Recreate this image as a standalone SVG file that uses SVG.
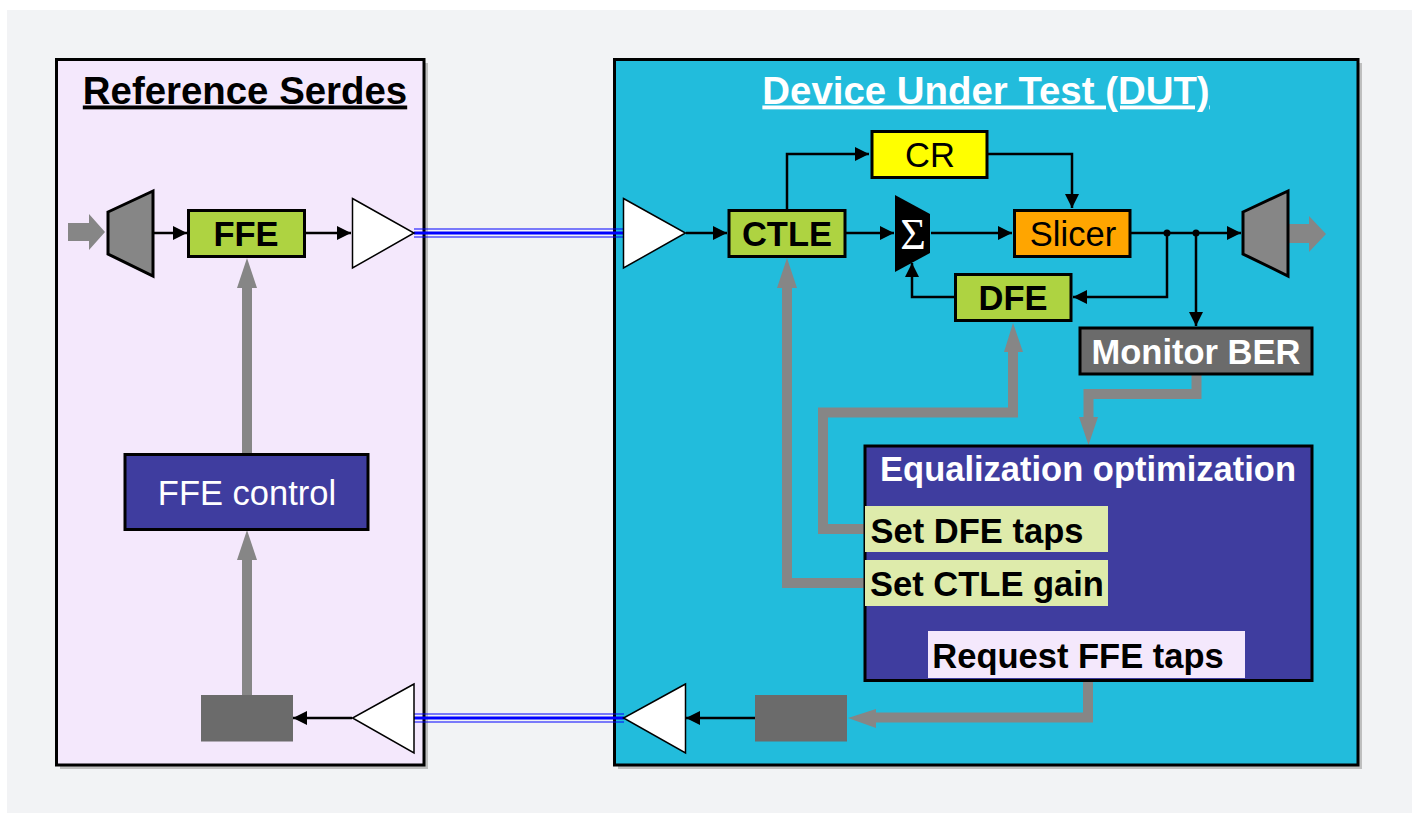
<svg xmlns="http://www.w3.org/2000/svg" width="1412" height="814" viewBox="0 0 1412 814">
<defs>
<marker id="ah" viewBox="0 0 14 14" refX="14" refY="7" markerWidth="14" markerHeight="14" markerUnits="userSpaceOnUse" orient="auto"><path d="M0 0L14 7L0 14Z" fill="#000"/></marker>
</defs>
<style>
text{font-family:"Liberation Sans",Arial,sans-serif;text-anchor:middle;font-size:34.500px}
.b{font-weight:bold}
.box{stroke:#000;stroke-width:3}
.green{fill:#aed341}
.wire{fill:none;stroke:#000;stroke-width:2.500}
.thick{fill:none;stroke:#868686;stroke-width:10}
.gh{fill:#868686}
.tri{fill:#fff;stroke:#000;stroke-width:1.500}
.mux{fill:#868686;stroke:#000;stroke-width:3}
.lane{stroke:#0000ff;fill:none}
text.title{font-size:38.400px}
</style>
<rect width="1412" height="814" fill="#fff"/>
<rect x="7" y="10" width="1405" height="803" fill="#f2f3f5"/>
<g id="panel-ref">
<rect x="60" y="63" width="368" height="706" fill="#bfbfbf"/>
<rect x="56.500" y="59.500" width="367.500" height="705.500" fill="#f4e8fc" class="box"/>
<text x="245" y="103.500" class="b title" text-decoration="underline">Reference Serdes</text>
</g>
<g id="panel-dut">
<rect x="618" y="63" width="744" height="706" fill="#bfbfbf"/>
<rect x="614.500" y="59.500" width="743.500" height="705.500" fill="#22bcdc" class="box"/>
<text x="986" y="103.500" class="b title" fill="#fff" text-decoration="underline">Device Under Test (DUT)</text>
</g>
<g id="connectors">
<path class="lane" stroke-width="1.200" d="M414 229H624M414 237H624M414 714H624M414 722H624"/>
<path class="lane" stroke-width="3" d="M414 233H624M414 718H624"/>
<path class="wire" marker-end="url(#ah)" d="M154 233H187"/>
<path class="wire" marker-end="url(#ah)" d="M305 233H351"/>
<path class="wire" marker-end="url(#ah)" d="M686 233H727"/>
<path class="wire" marker-end="url(#ah)" d="M846 233H894"/>
<path class="wire" marker-end="url(#ah)" d="M787 209V154H869"/>
<path class="wire" marker-end="url(#ah)" d="M988 154H1072V208"/>
<path class="wire" marker-end="url(#ah)" d="M931 233H1012"/>
<path class="wire" marker-end="url(#ah)" d="M1131 233H1241"/>
<path class="wire" marker-end="url(#ah)" d="M1167 233V297H1073"/>
<path class="wire" marker-end="url(#ah)" d="M1196 233V326"/>
<path class="wire" marker-end="url(#ah)" d="M955 297H912V263"/>
<path class="wire" marker-end="url(#ah)" d="M352 718H293"/>
<path class="wire" marker-end="url(#ah)" d="M755 718H686"/>
<circle cx="1167" cy="233" r="3.500"/>
<circle cx="1196" cy="233" r="3.500"/>
<path class="thick" d="M247 454V285"/>
<path class="gh" d="M237 288L247 258L257 288Z"/>
<path class="thick" d="M247 695V556"/>
<path class="gh" d="M237 560L247 530L257 560Z"/>
<path class="thick" d="M865 583H787V285"/>
<path class="gh" d="M777 288L787 258L797 288Z"/>
<path class="thick" d="M865 529H823V412.500H1013V350"/>
<path class="gh" d="M1004 352L1013 323L1023 352Z"/>
<path class="thick" d="M1196.500 375V394H1088.500V420"/>
<path class="gh" d="M1079 417L1088.500 445L1098 417Z"/>
<path class="thick" d="M1088 681V717.500H875"/>
<path class="gh" d="M876 709L848 718L876 728Z"/>
<path class="gh" d="M68 223H89V214L105 232L89 250V241H68Z"/>
<path class="gh" d="M1286 224H1309V216L1326 234L1309 252V243H1286Z"/>
</g>
<g id="tx-mux"><path class="mux" d="M108 212L153 191V276L108 254Z"/></g>
<g id="ffe"><rect x="188.500" y="210.500" width="116" height="46" class="box green"/><text x="246" y="246" class="b">FFE</text></g>
<g id="tx-driver"><path class="tri" d="M352.500 198.500L414 233L352.500 268Z"/></g>
<g id="ffe-control"><rect x="125" y="454.500" width="243" height="75" fill="#3f3d9f" class="box"/><text x="247" y="505" fill="#fff">FFE control</text></g>
<g id="ref-rx-block"><rect x="201" y="695" width="92" height="46.500" fill="#6b6b6b"/></g>
<g id="ref-rx-amp"><path class="tri" d="M414 684L352.500 718L414 753Z"/></g>
<g id="rx-amp"><path class="tri" d="M623.500 198.500L685.500 233L623.500 268Z"/></g>
<g id="ctle"><rect x="729" y="210.500" width="116" height="46" class="box green"/><text x="787" y="246" class="b">CTLE</text></g>
<g id="cr"><rect x="872" y="131.500" width="115" height="46" fill="#ffff00" class="box"/><text x="930" y="167">CR</text></g>
<g id="sum"><path d="M895 195L930 214V253L895 272Z" fill="#000"/><text x="913" y="249" fill="#fff" style="font-family:'Liberation Serif',serif;font-size:44px">Σ</text></g>
<g id="slicer"><rect x="1014.500" y="210.500" width="115.500" height="46" fill="#ffa500" class="box"/><text x="1073" y="246">Slicer</text></g>
<g id="dfe"><rect x="955.500" y="274.500" width="115.500" height="46" class="box green"/><text x="1013" y="310" class="b">DFE</text></g>
<g id="rx-mux"><path class="mux" d="M1243 212L1288 191V276L1243 254Z"/></g>
<g id="monitor-ber"><rect x="1080" y="328" width="232" height="46" fill="#6b6b6b" class="box"/><text x="1196" y="364" class="b" fill="#fff">Monitor BER</text></g>
<g id="equalization"><rect x="865" y="446" width="447" height="234.500" fill="#3f3d9f" class="box"/><text x="1088" y="481" class="b" fill="#fff">Equalization optimization</text></g>
<g id="set-dfe"><rect x="865" y="506" width="243" height="46" fill="#deebab"/><text x="977" y="543" class="b">Set DFE taps</text></g>
<g id="set-ctle"><rect x="865" y="560" width="243" height="46" fill="#deebab"/><text x="987" y="596" class="b">Set CTLE gain</text></g>
<g id="request-ffe"><rect x="928" y="631" width="317" height="47" fill="#f4e8fc"/><text x="1078" y="668" class="b">Request FFE taps</text></g>
<g id="dut-tx-block"><rect x="755" y="695" width="92" height="46.500" fill="#6b6b6b"/></g>
<g id="dut-tx-amp"><path class="tri" d="M685.500 684L623.500 718L685.500 753Z"/></g>
</svg>
